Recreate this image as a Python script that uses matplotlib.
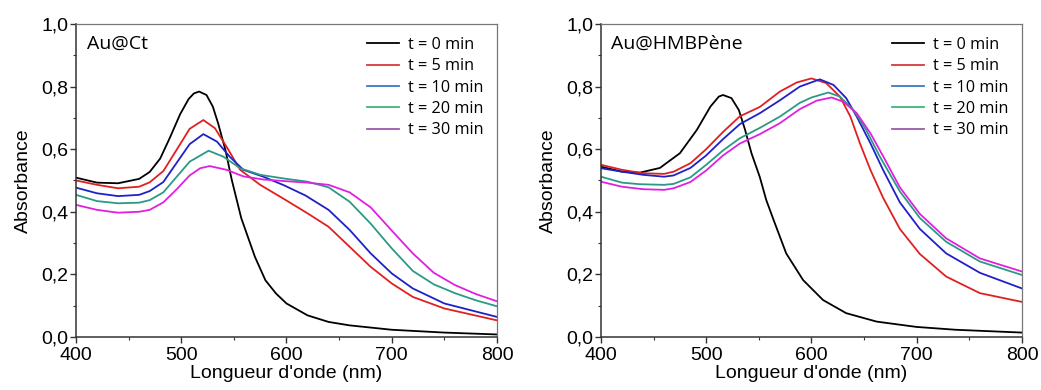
import matplotlib
matplotlib.use("Agg")
import matplotlib.pyplot as plt
from matplotlib.lines import Line2D
from matplotlib.ticker import FuncFormatter, MultipleLocator

# ---- data (wavelength nm, absorbance) ----
labels = ["t = 0 min", "t = 5 min", "t = 10 min", "t = 20 min", "t = 30 min"]
line_colors = ["#000000", "#e02020", "#2020c8", "#2a9a86", "#e020e0"]
legend_colors = ["#000000", "#d83a3a", "#3a78c8", "#3cb878", "#9a5aa8"]

# Au@Ct
ct_wl_0 = [400, 420, 440, 460, 470, 480, 489, 499, 507, 512, 517, 524, 530, 535, 542,
           548, 557, 570, 580, 590, 600, 620, 640, 660, 700, 750, 800]
ct_ab_0 = [0.509, 0.493, 0.491, 0.505, 0.527, 0.570, 0.635, 0.712, 0.760, 0.778, 0.784,
           0.773, 0.736, 0.683, 0.597, 0.502, 0.380, 0.256, 0.181, 0.139, 0.107, 0.069,
           0.048, 0.037, 0.023, 0.014, 0.008]
ct_wl_5 = [400, 420, 440, 460, 470, 483, 496, 508, 521, 532, 543, 556, 575, 598, 620,
           640, 660, 680, 700, 720, 750, 800]
ct_ab_5 = [0.500, 0.486, 0.475, 0.480, 0.494, 0.530, 0.600, 0.665, 0.693, 0.667, 0.608,
           0.534, 0.486, 0.440, 0.395, 0.352, 0.288, 0.224, 0.171, 0.128, 0.091, 0.053]
ct_wl_10 = [400, 420, 440, 460, 470, 483, 496, 508, 521, 534, 546, 559, 578, 598, 618,
            640, 660, 680, 700, 720, 750, 800]
ct_ab_10 = [0.477, 0.459, 0.450, 0.454, 0.466, 0.495, 0.558, 0.616, 0.648, 0.624, 0.576,
            0.534, 0.512, 0.484, 0.452, 0.406, 0.342, 0.267, 0.203, 0.155, 0.107, 0.064]
ct_wl_20 = [400, 420, 440, 460, 470, 483, 496, 508, 526, 540, 556, 575, 598, 620, 640,
            660, 680, 700, 720, 740, 760, 780, 800]
ct_ab_20 = [0.454, 0.434, 0.427, 0.429, 0.437, 0.462, 0.513, 0.560, 0.595, 0.576, 0.539,
            0.518, 0.506, 0.496, 0.478, 0.432, 0.362, 0.283, 0.211, 0.168, 0.140, 0.117,
            0.098]
ct_wl_30 = [400, 420, 440, 460, 470, 483, 496, 508, 518, 527, 543, 559, 578, 598, 620,
            640, 660, 680, 700, 720, 740, 760, 780, 800]
ct_ab_30 = [0.422, 0.406, 0.397, 0.400, 0.406, 0.430, 0.473, 0.516, 0.539, 0.546, 0.534,
            0.513, 0.503, 0.498, 0.493, 0.486, 0.462, 0.414, 0.340, 0.267, 0.205, 0.166,
            0.137, 0.114]

# Au@HMBPène
hm_wl_0 = [400, 420, 437, 456, 475, 491, 504, 512, 516, 524, 531, 537, 543, 551, 557,
           564, 576, 592, 611, 633, 662, 700, 737, 800]
hm_ab_0 = [0.544, 0.528, 0.525, 0.540, 0.587, 0.661, 0.736, 0.768, 0.773, 0.763, 0.725,
           0.661, 0.587, 0.510, 0.438, 0.374, 0.267, 0.182, 0.118, 0.076, 0.049, 0.032,
           0.023, 0.014]
hm_wl_5 = [400, 420, 440, 460, 469, 485, 500, 516, 532, 551, 570, 586, 600, 614, 627,
           637, 646, 656, 668, 684, 703, 728, 760, 800]
hm_ab_5 = [0.550, 0.534, 0.523, 0.521, 0.528, 0.555, 0.600, 0.655, 0.705, 0.735, 0.784,
           0.813, 0.826, 0.811, 0.768, 0.704, 0.619, 0.534, 0.445, 0.345, 0.265, 0.193,
           0.140, 0.112]
hm_wl_10 = [400, 420, 440, 460, 469, 485, 500, 516, 532, 551, 570, 589, 608, 621, 633,
            643, 656, 668, 684, 703, 728, 760, 800]
hm_ab_10 = [0.539, 0.528, 0.518, 0.512, 0.516, 0.540, 0.580, 0.632, 0.680, 0.715, 0.756,
            0.800, 0.823, 0.805, 0.763, 0.704, 0.619, 0.534, 0.430, 0.345, 0.267, 0.205,
            0.155]
hm_wl_20 = [400, 420, 437, 460, 469, 485, 500, 516, 532, 551, 570, 589, 600, 616, 627,
            640, 652, 665, 684, 703, 728, 760, 800]
hm_ab_20 = [0.512, 0.493, 0.488, 0.486, 0.489, 0.510, 0.550, 0.596, 0.635, 0.668, 0.704,
            0.748, 0.765, 0.781, 0.768, 0.725, 0.661, 0.576, 0.465, 0.380, 0.304, 0.241,
            0.198]
hm_wl_30 = [400, 420, 440, 460, 469, 485, 500, 516, 532, 551, 570, 589, 605, 619, 630,
            643, 656, 668, 684, 703, 728, 760, 800]
hm_ab_30 = [0.496, 0.480, 0.472, 0.470, 0.475, 0.495, 0.532, 0.580, 0.618, 0.648, 0.683,
            0.728, 0.755, 0.765, 0.752, 0.715, 0.651, 0.578, 0.478, 0.393, 0.315, 0.251,
            0.209]

panels = [
    ("Au@Ct", [(ct_wl_0, ct_ab_0), (ct_wl_5, ct_ab_5), (ct_wl_10, ct_ab_10),
               (ct_wl_20, ct_ab_20), (ct_wl_30, ct_ab_30)]),
    ("Au@HMBPène", [(hm_wl_0, hm_ab_0), (hm_wl_5, hm_ab_5), (hm_wl_10, hm_ab_10),
                    (hm_wl_20, hm_ab_20), (hm_wl_30, hm_ab_30)]),
]

plt.rcParams['font.family'] = ['Liberation Sans', 'DejaVu Sans']

fig = plt.figure(figsize=(10.41, 3.9), dpi=100)
axes = [fig.add_axes([0.073, 0.136, 0.4044, 0.8026]),
        fig.add_axes([0.5773, 0.136, 0.4044, 0.8026])]

comma = FuncFormatter(lambda v, pos: f"{v:.1f}".replace(".", ","))

for ax, (name, series) in zip(axes, panels):
    for (wl, ab), c in zip(series, line_colors):
        ax.plot(wl, ab, color=c, lw=1.3, solid_joinstyle='round')
    ax.set_xlim(400, 800)
    ax.set_ylim(0, 1.0)
    ax.xaxis.set_major_locator(MultipleLocator(100))
    ax.xaxis.set_minor_locator(MultipleLocator(50))
    ax.yaxis.set_major_locator(MultipleLocator(0.2))
    ax.yaxis.set_minor_locator(MultipleLocator(0.1))
    ax.yaxis.set_major_formatter(comma)
    ax.tick_params(which='major', direction='out', length=4, width=1,
                   labelsize=14, color='#333333', pad=1.5)
    ax.tick_params(axis='x', which='major', pad=3)
    ax.tick_params(which='minor', direction='out', length=2.5, width=0.8,
                   color='#333333')
    for s in ['left', 'bottom']:
        ax.spines[s].set_color('#333333')
        ax.spines[s].set_linewidth(1.1)
    for s in ['top', 'right']:
        ax.spines[s].set_color('#777777')
        ax.spines[s].set_linewidth(0.9)
    ax.set_xlabel("Longueur d'onde (nm)", fontsize=14, labelpad=1)
    ax.set_ylabel("Absorbance", fontsize=14, labelpad=7)
    ax.text(0.025, 0.965, name, transform=ax.transAxes, ha='left', va='top',
            fontsize=14, family=['Open Sans', 'DejaVu Sans'])
    handles = [Line2D([], [], color=c, lw=1.3) for c in legend_colors]
    ax.legend(handles, labels, loc='upper right', frameon=False,
              bbox_to_anchor=(1.0, 1.0), handlelength=2.0, handletextpad=0.55,
              labelspacing=0.33, borderaxespad=0.4,
              prop={'family': ['Open Sans', 'DejaVu Sans'], 'size': 11.7})

fig.savefig("out.png", dpi=100)
